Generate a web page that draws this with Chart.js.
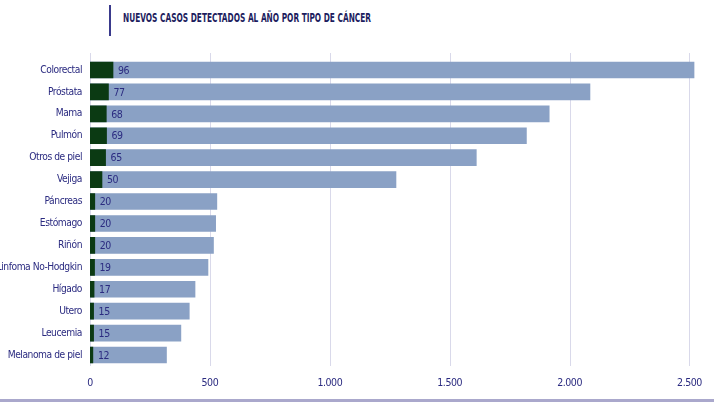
<!DOCTYPE html>
<html>
<head>
<meta charset="utf-8">
<script src="https://cdn.jsdelivr.net/npm/chart.js@4.4.0/dist/chart.umd.min.js"></script>
<style>
  body { margin: 0; background: #fff; }
  #wrap { position: relative; width: 714px; height: 402px; overflow: hidden; }
  #bar { position: absolute; left: 109px; top: 5px; width: 2px; height: 31px; background: #3a3a8c; }
  #title { position: absolute; left: 123px; top: 11px; font: bold 11.5px "DejaVu Sans Condensed", sans-serif; color: #1d1d5e; white-space: nowrap; transform: scaleX(0.715); transform-origin: 0 0; }
  #foot { position: absolute; left: 0; top: 399px; width: 714px; height: 3px; background: #aaa8cc; }
  canvas { position: absolute; left: 0; top: 0; }
</style>
</head>
<body>
<div id="wrap">
  <div id="bar"></div>
  <div id="title">NUEVOS CASOS DETECTADOS AL AÑO POR TIPO DE CÁNCER</div>
  <canvas id="chart" width="714" height="402"></canvas>
  <div id="foot"></div>
</div>
<script>
var categories = ['Colorectal','Próstata','Mama','Pulmón','Otros de piel','Vejiga','Páncreas','Estómago','Riñón','Linfoma No-Hodgkin','Hígado','Utero','Leucemia','Melanoma de piel'];
var newCases = [2519, 2085, 1915, 1820, 1611, 1276, 529, 524, 515, 492, 438, 414, 379, 319];
var smallValues = [96, 77, 68, 69, 65, 50, 20, 20, 20, 19, 17, 15, 15, 12];
var tickValues = [0, 500, 1000, 1500, 2000, 2500];

var textColor = '#2b2b80';
var fontName = '"DejaVu Sans Condensed", sans-serif';

// narrower text everywhere on the canvas
var spacingPlugin = {
    id: 'narrowText',
    beforeDraw: function(chart){
        chart.ctx.letterSpacing = '-0.45px';
    }
};

// grid lines drawn from a bit above the plot area, like the original
var gridPlugin = {
    id: 'gridLines',
    beforeDatasetsDraw: function(chart){
        var ctx = chart.ctx;
        var x = chart.scales.x;
        ctx.save();
        ctx.strokeStyle = '#d9d9ea';
        ctx.lineWidth = 1;
        x.ticks.forEach(function(t){
            var px = Math.round(x.getPixelForValue(t.value)) + 0.5;
            ctx.beginPath();
            ctx.moveTo(px, 53);
            ctx.lineTo(px, chart.chartArea.bottom);
            ctx.stroke();
        });
        ctx.restore();
    }
};

// value labels right of the green bars
var labelPlugin = {
    id: 'valueLabels',
    afterDatasetsDraw: function(chart){
        var ctx = chart.ctx;
        var meta = chart.getDatasetMeta(0);
        ctx.save();
        ctx.fillStyle = textColor;
        ctx.font = '10.5px ' + fontName;
        ctx.textAlign = 'left';
        ctx.textBaseline = 'middle';
        meta.data.forEach(function(el, i){
            ctx.fillText(smallValues[i], el.x + 5, el.y + 1);
        });
        ctx.restore();
    }
};

var ctx = document.getElementById('chart').getContext('2d');
var chart = new Chart(ctx, {
    type: 'bar',
    data: {
        labels: categories,
        datasets: [
            {
                data: smallValues,
                backgroundColor: '#0b3a13',
                barThickness: 16,
                grouped: false
            },
            {
                data: newCases,
                backgroundColor: '#8aa1c5',
                barThickness: 16,
                grouped: false
            }
        ]
    },
    options: {
        indexAxis: 'y',
        responsive: false,
        animation: false,
        layout: { padding: { top: 59, right: 0, bottom: 0, left: 0 } },
        plugins: {
            legend: { display: false },
            tooltip: { enabled: false }
        },
        scales: {
            x: {
                min: 0,
                max: 2593,
                border: { display: false },
                grid: { display: false, drawTicks: false },
                afterBuildTicks: function(scale){
                    scale.ticks = tickValues.map(function(v){ return { value: v }; });
                },
                afterFit: function(scale){ scale.height = 36; },
                ticks: {
                    color: textColor,
                    padding: 11,
                    font: { family: fontName, size: 10.5 },
                    callback: function(v){ return v.toLocaleString('de-DE'); }
                }
            },
            y: {
                border: { display: false },
                grid: { display: false, drawTicks: false },
                afterFit: function(scale){ scale.width = 90; },
                ticks: {
                    color: textColor,
                    padding: 8,
                    font: { family: fontName, size: 10.2 }
                }
            }
        }
    },
    plugins: [spacingPlugin, gridPlugin, labelPlugin]
});
</script>
</body>
</html>
